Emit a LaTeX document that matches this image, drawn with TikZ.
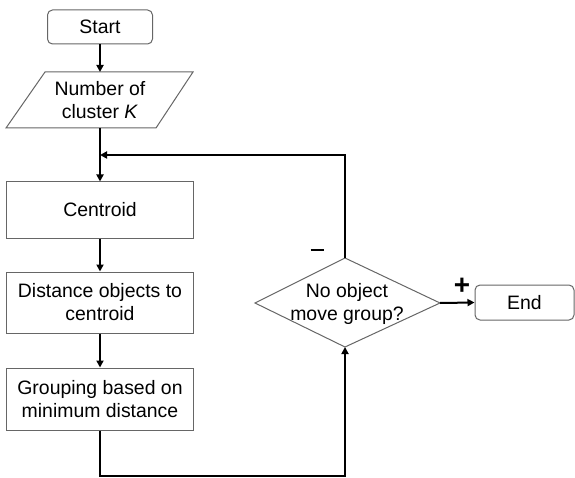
\documentclass[tikz,border=0pt]{standalone}
\usepackage{fontspec}
\setmainfont{Liberation Sans}
\usetikzlibrary{arrows.meta}
\begin{document}
\begin{tikzpicture}[x=1bp,y=-1bp,
  txt/.style={font=\fontsize{19.5}{23}\selectfont, align=center, inner sep=0pt},
  box/.style={txt, draw=black!60, line width=1bp, fill=white},
  conn/.style={line width=2bp, black},
  arr/.style={conn, -{Triangle[length=7bp,width=7bp]}},
  sign/.style={font=\fontsize{28}{30}\selectfont\bfseries, inner sep=0pt}]
\useasboundingbox (0,0) rectangle (575,478);
% nodes
\node[box, rounded corners=5bp, minimum width=105bp, minimum height=34bp] (start) at (100,27) {Start};
\coordinate (pTL) at (45,72); \coordinate (pTR) at (193,72);
\coordinate (pBR) at (156,128); \coordinate (pBL) at (6,128);
\draw[draw=black!60, line width=1bp, fill=white] (pTL) -- (pTR) -- (pBR) -- (pBL) -- cycle;
\node[txt] (num) at (100,100) {Number of\\cluster \textit{K}};
\coordinate (numtop) at (100,72);
\coordinate (numbot) at (100,128);
\node[box, minimum width=187bp, minimum height=56bp] (cent) at (100,210) {Centroid};
\node[box, minimum width=187bp, minimum height=61bp] (dist) at (100,302.5) {Distance objects to\\centroid};
\node[box, minimum width=187bp, minimum height=62bp] (group) at (100,399) {Grouping based on\\minimum distance};
\coordinate (dT) at (345,258); \coordinate (dR) at (440,303);
\coordinate (dB) at (345,347); \coordinate (dL) at (255,303);
\draw[draw=black!60, line width=1bp, fill=white] (dT) -- (dR) -- (dB) -- (dL) -- cycle;
\node[txt] (dec) at (347,304) {No object\\move group?};
\node[box, rounded corners=5bp, minimum width=99bp, minimum height=35bp] (end) at (524.5,302.5) {End};
\node[inner sep=0pt] (minus) at (317,250) {\rule{13bp}{2.6bp}};
\node[sign] (plus) at (462,286) {+};
% connectors
\coordinate (loopL) at (100,155);
\coordinate (loopR) at (345,155);
\coordinate (botL) at (100,476);
\coordinate (botR) at (345,476);
\draw[arr] (start.south) -- (numtop);
\draw[arr] (numbot) -- (cent.north);
\draw[arr] (dT) -- (loopR) -- (loopL);
\draw[arr] (cent.south) -- (dist.north);
\draw[arr] (dist.south) -- (group.north);
\draw[arr] (group.south) -- (botL) -- (botR) -- (dB);
\draw[arr] (dR) -- (end.west);
\end{tikzpicture}
\end{document}
